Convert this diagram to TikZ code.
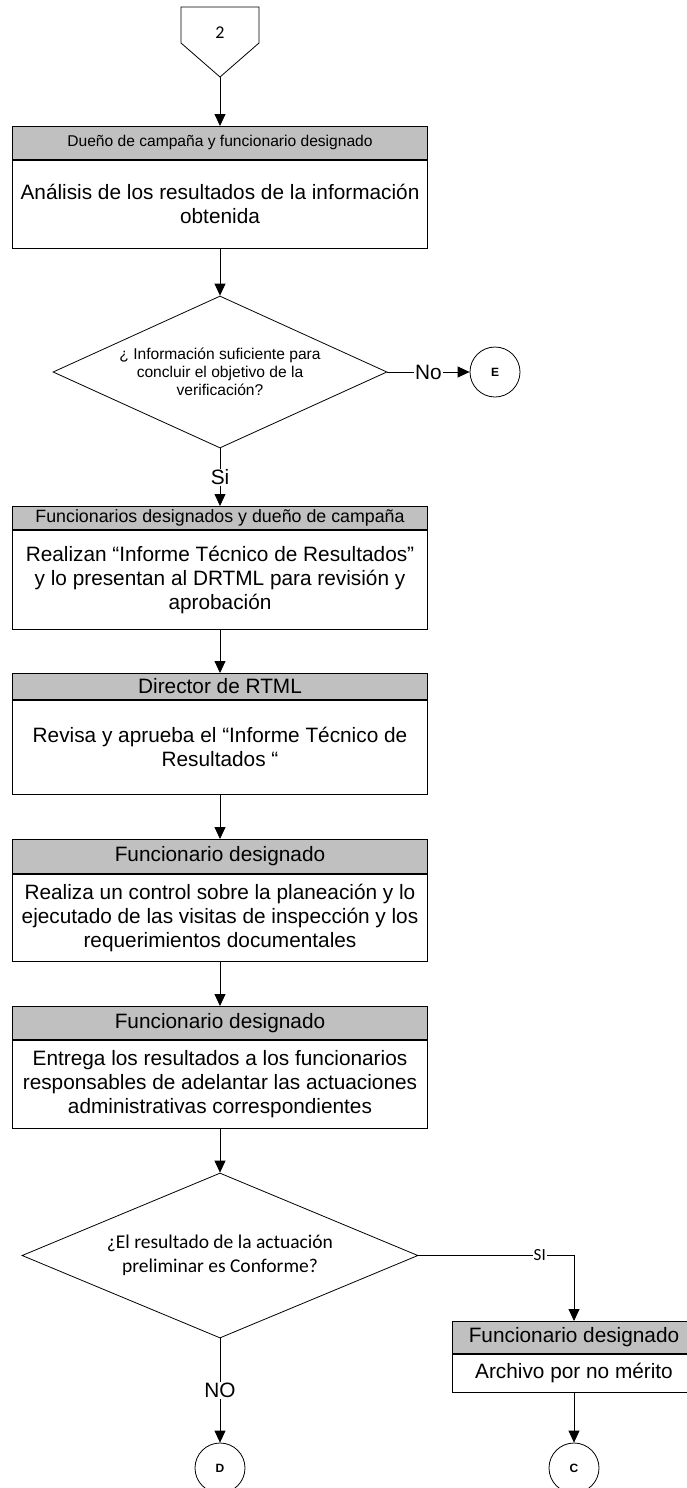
\documentclass[tikz,border=0pt]{standalone}
\usepackage{fontspec}
\setmainfont{Liberation Sans}
\newfontfamily\calibri{Carlito}
\usepackage{tikz}
\usetikzlibrary{shapes.geometric,arrows.meta}
\definecolor{headgray}{RGB}{192,192,192}
\newcommand{\txtbig}{\fontsize{20.8}{24}\selectfont}
\newcommand{\txtmid}{\fontsize{17.8}{20}\selectfont}
\newcommand{\txtsmall}{\fontsize{15.6}{18}\selectfont}

\begin{document}
\begin{tikzpicture}[x=1pt, y=-1pt, line width=0.8pt, >={Triangle[length=12pt,width=11pt]},
  head/.style={draw, fill=headgray, minimum width=415pt, inner sep=0pt, anchor=north, align=center},
  body/.style={draw, fill=white, minimum width=415pt, inner sep=0pt, anchor=north, align=center, font=\txtbig},
  decision/.style={draw, diamond, inner sep=0pt, align=center},
  connector/.style={draw, circle, minimum size=50pt, inner sep=0pt, font=\bfseries\fontsize{12}{14}\selectfont},
  lbl/.style={fill=white, inner sep=1pt, font=\txtbig}]
  \useasboundingbox (0,0) rectangle (686,1488);
  % Nodes
  \draw (181,7) -- (259,7) -- (259,43) -- (220,77) -- (181,43) -- cycle;
  \node[font=\calibri\fontsize{18}{20}\selectfont](n2) at (220,33) {2};
  \coordinate (p2) at (220,77);
  \node[head, minimum height=33pt, font=\txtsmall](h1) at (220,126) {Dueño de campaña y funcionario designado};
  \node[body, minimum height=88pt](b1) at (h1.south) {Análisis de los resultados de la información\\obtenida};
  \node[decision, aspect=2.2, minimum width=334pt, minimum height=152pt, font=\txtsmall](d1) at (220,372) {¿ Información suficiente para\\concluir el objetivo de la\\verificación?};
  \node[connector](e) at (495,372) {E};
  \node[head, minimum height=23pt, font=\txtmid](h2) at (220,506) {Funcionarios designados y dueño de campaña};
  \node[body, minimum height=99pt](b2) at (h2.south) {Realizan “Informe Técnico de Resultados”\\y lo presentan al DRTML para revisión y\\aprobación};
  \node[head, minimum height=26pt, font=\txtbig](h3) at (220,673) {Director de RTML};
  \node[body, minimum height=94pt](b3) at (h3.south) {Revisa y aprueba el “Informe Técnico de\\Resultados “};
  \node[head, minimum height=34pt, font=\txtbig](h4) at (220,839) {Funcionario designado};
  \node[body, minimum height=87pt](b4) at (h4.south) {Realiza un control sobre la planeación y lo\\ejecutado de las visitas de inspección y los\\requerimientos documentales};
  \node[head, minimum height=33pt, font=\txtbig](h5) at (220,1006) {Funcionario designado};
  \node[body, minimum height=88pt](b5) at (h5.south) {Entrega los resultados a los funcionarios\\responsables de adelantar las actuaciones\\administrativas correspondientes};
  \node[decision, aspect=2.4, minimum width=396pt, minimum height=165pt, font=\calibri\fontsize{19.5}{24}\selectfont](d2) at (220,1255.5) {¿El resultado de la actuación\\preliminar es Conforme?};
  \node[head, minimum width=244pt, minimum height=32pt, font=\txtbig](hr) at (574,1321) {Funcionario designado};
  \node[body, minimum width=244pt, minimum height=38pt](br) at (hr.south) {Archivo por no mérito};
  \node[connector](dd) at (220,1468) {D};
  \node[connector](cc) at (574,1468) {C};
  % Edges
  \draw[->] (p2) -- (h1.north);
  \draw[->] (b1.south) -- (d1.north);
  \draw[->] (d1.east) -- node[lbl]{No} (e.west);
  \draw[->] (d1.south) -- node[lbl]{Si} (h2.north);
  \draw[->] (b2.south) -- (h3.north);
  \draw[->] (b3.south) -- (h4.north);
  \draw[->] (b4.south) -- (h5.north);
  \draw[->] (b5.south) -- (d2.north);
  \draw[->] (d2.east) -| node[lbl, pos=0.39, font=\calibri\fontsize{17}{18}\selectfont]{SI} (hr.north);
  \draw[->] (d2.south) -- node[lbl]{NO} (dd.north);
  \draw[->] (br.south) -- (cc.north);
\end{tikzpicture}
\end{document}
